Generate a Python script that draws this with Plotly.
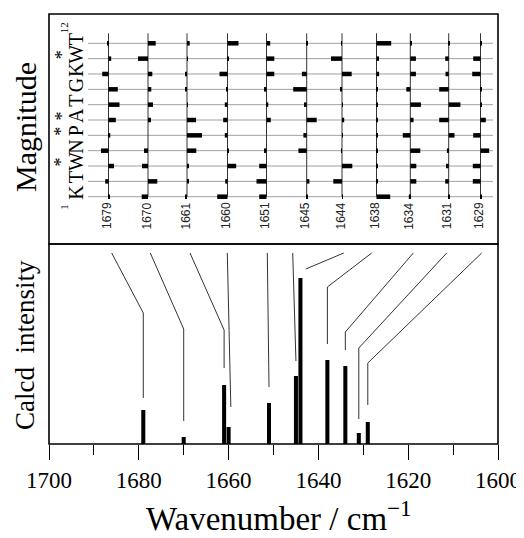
import plotly.graph_objects as go

# ---------------- data ----------------
modes = [1679, 1670, 1661, 1660, 1651, 1645, 1644, 1638, 1634, 1631, 1629]
intensity = [34, 7, 59, 17, 41, 68, 166, 84, 78, 11, 22]
residues = list("KTWNPATGKWT")
labelled = [3, 5, 6, 10]  # residues marked with *
# normal-mode magnitude for residues 1..11, one list per mode
mag_1679 = [1.3, -3.3, 5.5, -7.5, 1.8, 7.3, 11.0, 9.3, -6.3, 2.7, -1.0]
mag_1670 = [-6.3, 9.3, -6.0, -4.0, 0.0, 3.0, 5.0, 3.3, 4.3, -10.0, 7.7]
mag_1661 = [-1.8, 1.5, 2.0, 9.3, 15.0, 9.0, 1.0, -2.0, -1.8, 1.0, 2.7]
mag_1660 = [-10.3, -2.3, 8.7, 1.0, -2.7, -4.3, -2.7, -1.0, -8.0, 1.0, 11.0]
mag_1651 = [-7.3, -10.0, -7.3, -2.5, 0.0, 4.3, 1.8, -2.5, 7.8, 7.8, 3.7]
mag_1645 = [1.0, 2.7, 0.0, -8.3, -3.3, 10.0, -2.7, -13.5, -4.8, 0.0, 1.0]
mag_1644 = [1.0, -8.7, 10.3, -1.0, 1.0, 2.2, 1.0, -1.8, 9.7, -11.0, -1.0]
mag_1638 = [13.7, 1.0, 1.0, 1.0, 1.0, 1.0, 1.0, 1.0, 2.6, 2.5, 14.7]
mag_1634 = [-1.5, 6.0, 6.0, 10.0, -7.5, 3.2, 10.6, -4.0, 5.6, 5.6, 1.0]
mag_1631 = [1.0, -3.5, -2.7, -1.8, 5.8, -9.5, 11.7, -9.5, -3.2, -3.5, 1.0]
mag_1629 = [1.0, -7.7, -7.7, 8.7, -7.3, 5.3, 1.0, 1.0, -8.3, -7.3, 1.0]
magnitude = [mag_1679, mag_1670, mag_1661, mag_1660, mag_1651, mag_1645,
             mag_1644, mag_1638, mag_1634, mag_1631, mag_1629]
x_ticks = [1700, 1680, 1660, 1640, 1620, 1600]

# ---------------- layout geometry (in window pixels) ----------------
OFF = 8                         # page body margin
WIN_W, WIN_H = 524, 538
W, H = WIN_W - OFF, WIN_H - OFF
LEFT, RIGHT, TOP, BOTTOM = 49, 498, 14, 444   # plot area in window pixels
ML, MT = LEFT - OFF, TOP - OFF
MR, MB = WIN_W - RIGHT, WIN_H - BOTTOM
PW, PH = RIGHT - LEFT, BOTTOM - TOP
SPLIT = 244
bot_dom = [0.0, (BOTTOM - SPLIT) / PH]
top_dom = [(BOTTOM - SPLIT) / PH, 1.0]
top_h = SPLIT - TOP
bot_h = BOTTOM - SPLIT

col_x = [59.5, 99, 138, 178.5, 217.5, 257.7, 293, 327.5, 361.3, 399.7, 431.5]
row0, row_step = 47.3, 15.34
row_y = [row0 + i * row_step for i in range(len(residues))]
col_top = 210.7
letter_dy = 4

# connector leaders
lead_top = [62.7, 101.3, 141, 178.3, 218.3, 243.7, 294.7, 322.7, 364.3, 397.7, 432.7]
lead_kink = [131, 115, 114, None, None, None, None, 157, 112, 96, 81]
lead_end = [46, 23, 76, 37, 57, 83, 175, 100, 94, 25, 39]
lead_dx = [0, 0, 0, -0.5, 0, 0, -1.2, 0, 0, 0, 0]
lead_y0 = 191


def x2_to_wn(v):
    return 1700 - v * 100 / PW


def px_x(p):
    return (p - LEFT) / PW


def px_y(p):
    return (BOTTOM - p) / PH


fig = go.Figure()

for j, m in enumerate(modes):
    fig.add_trace(go.Bar(
        x=magnitude[j], y=row_y, base=[col_x[j]] * len(row_y),
        orientation="h", width=4.5, marker=dict(color="black", line_width=0),
        xaxis="x2", yaxis="y2", showlegend=False, hoverinfo="skip"))

fig.add_trace(go.Bar(x=modes, y=intensity, width=0.9,
                     marker=dict(color="black", line_width=0),
                     xaxis="x", yaxis="y", showlegend=False))

shapes = []
for y in row_y:
    shapes.append(dict(type="line", xref="x2", yref="y2", x0=39, x1=444, y0=y, y1=y,
                       line=dict(color="#a0a0a0", width=1), layer="below"))
for cx in col_x:
    shapes.append(dict(type="line", xref="x2", yref="y2", x0=cx, x1=cx, y0=row_y[0], y1=col_top,
                       line=dict(color="#333333", width=1), layer="below"))
for j, m in enumerate(modes):
    xs = x2_to_wn(lead_top[j])
    xe = m + lead_dx[j]
    if lead_kink[j] is None:
        shapes.append(dict(type="line", xref="x", yref="y", x0=xs, y0=lead_y0, x1=xe, y1=lead_end[j],
                           line=dict(color="#333333", width=1)))
    else:
        shapes.append(dict(type="line", xref="x", yref="y", x0=xs, y0=lead_y0, x1=xe, y1=lead_kink[j],
                           line=dict(color="#333333", width=1)))
        shapes.append(dict(type="line", xref="x", yref="y", x0=xe, y0=lead_kink[j], x1=xe, y1=lead_end[j],
                           line=dict(color="#333333", width=1)))
for d in (top_dom, bot_dom):
    shapes.append(dict(type="rect", xref="paper", yref="paper", x0=0, x1=1, y0=d[0], y1=d[1],
                       line=dict(color="black", width=1.6), fillcolor="rgba(0,0,0,0)"))

C = dict(showarrow=False, xanchor="center", yanchor="middle")
ann = []
for j, m in enumerate(modes):
    ann.append(dict(xref="x2", yref="y2", x=col_x[j] - 1.5, y=28, text=str(m), textangle=-90,
                    font=dict(family="Liberation Sans", size=12, color="#222"), **C))
for i, r in enumerate(residues):
    ann.append(dict(xref="x2", yref="y2", x=27, y=row_y[i] + letter_dy, text=r, textangle=-90,
                    font=dict(family="Liberation Serif", size=20, color="black"), **C))
for k in labelled:
    ann.append(dict(xref="x2", yref="y2", x=12.5, y=row_y[k - 1] + letter_dy, text="*", textangle=-90,
                    font=dict(family="Liberation Serif", size=18, color="black"), **C))
ann.append(dict(xref="x2", yref="y2", x=15, y=row_y[0] - 10, text="1", textangle=-90,
                font=dict(family="Liberation Serif", size=11, color="black"), **C))
ann.append(dict(xref="x2", yref="y2", x=15, y=row_y[-1] + 15, text="12", textangle=-90,
                font=dict(family="Liberation Serif", size=11, color="black"), **C))
ann.append(dict(xref="paper", yref="paper", x=px_x(25), y=px_y(127), text="Magnitude",
                textangle=-90, font=dict(family="Liberation Serif", size=30, color="black"), **C))
ann.append(dict(xref="paper", yref="paper", x=px_x(25), y=px_y(345),
                text="Calcd\u00a0 intensity", textangle=-90,
                font=dict(family="Liberation Serif", size=27, color="black"), **C))
ann.append(dict(xref="paper", yref="paper", x=px_x(279), y=px_y(516),
                text="Wavenumber / cm<sup>\u22121</sup>",
                font=dict(family="Liberation Serif", size=33, color="black"), **C))

fig.update_layout(
    width=W, height=H, margin=dict(l=ML, r=MR, t=MT, b=MB, autoexpand=False),
    paper_bgcolor="white", plot_bgcolor="white", barmode="overlay",
    shapes=shapes, annotations=ann, showlegend=False,
    xaxis=dict(range=[1700, 1600], anchor="y", showline=False, automargin=False,
               ticks="outside", ticklen=15, tickwidth=1, tickcolor="black",
               tickvals=x_ticks, ticktext=[str(v) for v in x_ticks],
               tickfont=dict(family="Liberation Serif", size=23, color="black"),
               minor=dict(dtick=10, tick0=1600, ticks="outside", ticklen=10, tickcolor="black", tickwidth=1),
               showgrid=False, zeroline=False),
    yaxis=dict(domain=bot_dom, range=[0, bot_h], showticklabels=False, ticks="", showgrid=False,
               zeroline=False, showline=False, anchor="x", automargin=False),
    xaxis2=dict(range=[0, PW], anchor="y2", showticklabels=False, ticks="", showgrid=False,
                zeroline=False, showline=False, automargin=False),
    yaxis2=dict(domain=top_dom, range=[0, top_h], anchor="x2", showticklabels=False, ticks="",
                showgrid=False, zeroline=False, showline=False, automargin=False),
)

fig.write_html("out.html")
